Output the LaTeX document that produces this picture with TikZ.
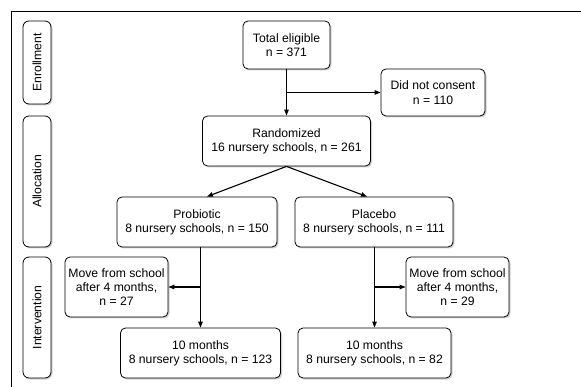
\documentclass[tikz,border=0pt]{standalone}
\usepackage{fontspec}
\setmainfont{Liberation Sans}
\usetikzlibrary{shadows,arrows.meta,calc}
\begin{document}
\begin{tikzpicture}[x=1pt,y=-1pt,
  box/.style={draw=black,line width=0.8pt,rounded corners=5pt,fill=white,align=center,
    inner sep=0pt,font=\fontsize{12.2}{14.3}\selectfont,
    drop shadow={shadow xshift=1.5pt,shadow yshift=-1.5pt,fill=gray!60,opacity=0.6}},
  lab/.style={draw=black,line width=0.8pt,rounded corners=6pt,fill=white,inner sep=0pt,
    drop shadow={shadow xshift=1.5pt,shadow yshift=-1.5pt,fill=gray!60,opacity=0.6}},
  labt/.style={rotate=90,font=\fontsize{12.2}{14.3}\selectfont},
  arr/.style={line width=1.1pt,-{Triangle[length=6pt,width=4.5pt]}}]
\useasboundingbox (0,0) rectangle (581,387);
\fill[white] (0,0) rectangle (581,387);
\draw[line width=0.9pt] (11,387) -- (11,11) -- (581,11);

% phase labels
\node[lab,minimum width=28pt,minimum height=83pt] (enr) at (37,62.5) {};
\node[labt] (enrt) at (enr.center) {Enrollment};
\node[lab,minimum width=28pt,minimum height=131pt] (alloc) at (37,181.5) {};
\node[labt] (alloct) at (alloc.center) {Allocation};
\node[lab,minimum width=28pt,minimum height=121pt] (interv) at (37,317.5) {};
\node[labt] (intervt) at (interv.center) {Intervention};

% boxes
\node[box,minimum width=87pt,minimum height=48pt] (tot) at (286.5,45) {Total eligible\\n = 371};
\node[box,minimum width=104pt,minimum height=47pt] (dnc) at (433,92.5) {Did not consent\\n = 110};
\node[box,minimum width=168pt,minimum height=50pt] (rand) at (286.5,141) {Randomized\\16 nursery schools, n = 261};
\node[box,minimum width=160pt,minimum height=50pt] (prob) at (197,222) {Probiotic\\8 nursery schools, n = 150};
\node[box,minimum width=158pt,minimum height=50pt] (plac) at (374,222) {Placebo\\8 nursery schools, n = 111};
\node[box,minimum width=103pt,minimum height=60pt] (mv1) at (116.5,287) {Move from school\\after 4 months,\\n = 27};
\node[box,minimum width=103pt,minimum height=60pt] (mv2) at (457.5,287) {Move from school\\after 4 months,\\n = 29};
\node[box,minimum width=160pt,minimum height=50pt] (ten1) at (200.5,353) {10 months\\8 nursery schools, n = 123};
\node[box,minimum width=153pt,minimum height=50pt] (ten2) at (374.5,353) {10 months\\8 nursery schools, n = 82};

% connectors
\coordinate (b1) at (tot.south |- dnc.west);
\draw[arr] (tot.south) -- (rand.north);
\draw[arr] (b1) -- (dnc.west);
\coordinate (pl) at ($(prob.north)+(10,0)$);
\coordinate (pr) at ($(plac.north)+(-7,0)$);
\draw[arr] (rand.south) -- (pl);
\draw[arr] (rand.south) -- (pr);
\coordinate (p1) at (prob.south -| ten1.north);
\draw[arr] (p1) -- (ten1.north);
\coordinate (b2) at (mv1.east -| ten1.north);
\draw[arr] (b2) -- (mv1.east);
\coordinate (p2) at (plac.south -| ten2.north);
\draw[arr] (p2) -- (ten2.north);
\coordinate (b3) at (mv2.west -| ten2.north);
\draw[arr] (b3) -- (mv2.west);
\end{tikzpicture}
\end{document}
